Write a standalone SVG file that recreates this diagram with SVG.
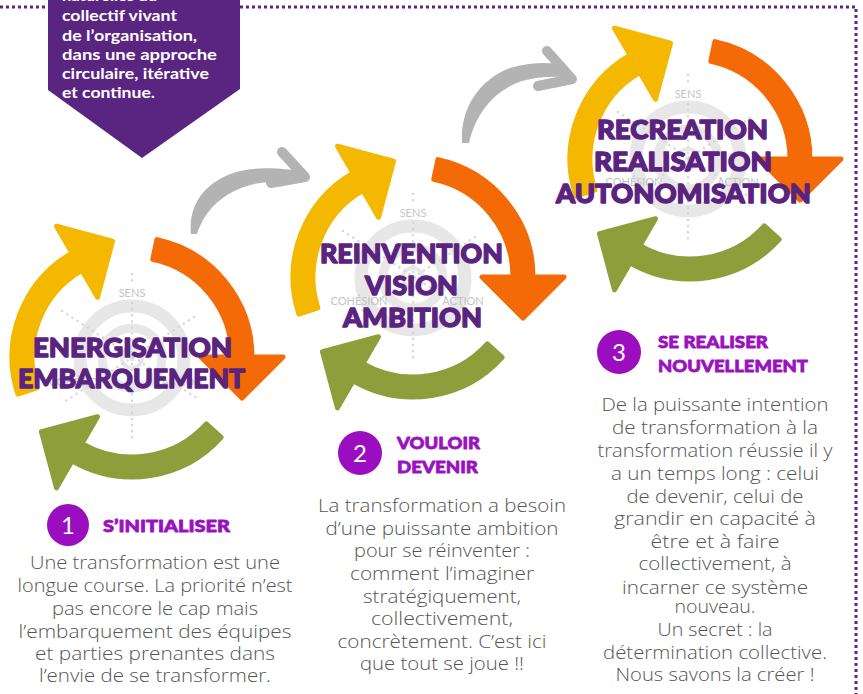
<svg xmlns="http://www.w3.org/2000/svg" xmlns:xlink="http://www.w3.org/1999/xlink" width="863" height="694" viewBox="0 0 863 694">
<style>
.title{font-family:Lato,"Open Sans","Liberation Sans",sans-serif;font-weight:900;font-size:27px;fill:#5A2380;stroke:#5A2380;stroke-width:1.4px;stroke-linejoin:round;text-anchor:middle}
.lbl{font-family:Lato,"Open Sans","Liberation Sans",sans-serif;font-size:11px;fill:#C4C4C4;text-anchor:middle}
.body{font-family:"Open Sans",Lato,"Liberation Sans",sans-serif;font-weight:300;font-size:18px;fill:#555555;text-anchor:middle}
.head{font-family:Lato,"Open Sans","Liberation Sans",sans-serif;font-weight:900;font-size:17px;fill:#9A12BF;stroke:#9A12BF;stroke-width:0.8px;stroke-linejoin:round}
.num{font-family:Lato,"Open Sans","Liberation Sans",sans-serif;font-size:24px;fill:#fff;text-anchor:middle}
.box{font-family:Lato,"Open Sans","Liberation Sans",sans-serif;font-weight:700;font-size:14.5px;fill:#fff}
.yl{fill:#F4B800;stroke:#F4B800}
.or{fill:#F36A06;stroke:#F36A06}
.gr{fill:#8E9E3B;stroke:#8E9E3B}
.arw{stroke-width:5;stroke-linejoin:round}
.grey{fill:#B4B3B4}
.greyhead{fill:none;stroke:#B4B3B4;stroke-width:10;stroke-linecap:round;stroke-linejoin:round}
</style>
<defs>
<path id="arc" d="M20.79 -97.81 L24.95 -117.38 A120 120 0 0 1 120 0 L151 0 L110 41 L69 0 L100 0 A100 100 0 0 0 20.79 -97.81 Z"/>
<g id="arrows">
<use xlink:href="#arc" href="#arc" class="or arw"/>
<use xlink:href="#arc" href="#arc" class="gr arw" transform="rotate(120)"/>
<use xlink:href="#arc" href="#arc" class="yl arw" transform="rotate(240)"/>
</g>
<g id="tgt">
<circle r="52" fill="none" stroke="#E7E7E7" stroke-width="13"/>
<circle r="30" fill="none" stroke="#E7E7E7" stroke-width="9"/>
<circle r="10" fill="none" stroke="#E7E7E7" stroke-width="4"/>
<circle r="3" fill="#E7E7E7"/>
<path d="M0 -84 V-74 M0 -55 V80 M-70 -47 L68 42 M62 -41 L-68 44" fill="none" stroke="#D6D6D6" stroke-width="2.4" stroke-dasharray="0.1 6" stroke-linecap="round"/>
</g>
</defs>

<rect width="863" height="694" fill="#fff"/>

<!-- dotted frame -->
<path d="M0 7 H856 V694" fill="none" stroke="#5C2582" stroke-width="3" stroke-dasharray="3 3"/>

<!-- intro box -->
<g id="intro">
<polygon points="48,0 240,0 240,89 142,158 48,90" fill="#5A2581"/>
<text class="box" x="62" y="1" textLength="95" lengthAdjust="spacingAndGlyphs">naturelles du</text>
<text class="box" x="62" y="21" textLength="115" lengthAdjust="spacingAndGlyphs">collectif vivant</text>
<text class="box" x="62" y="41" textLength="135" lengthAdjust="spacingAndGlyphs">de l’organisation,</text>
<text class="box" x="62" y="60" textLength="155" lengthAdjust="spacingAndGlyphs">dans une approche</text>
<text class="box" x="62" y="79" textLength="147" lengthAdjust="spacingAndGlyphs">circulaire, itérative</text>
<text class="box" x="62" y="98" textLength="93" lengthAdjust="spacingAndGlyphs">et continue.</text>
</g>

<!-- connectors -->
<g id="connectors">
<path class="grey" d="M191 234 C188 205 205 180 240 171 C262 166 285 169 300 171 L301 183 C282 181 262 181 247 186 C222 194 205 210 197 234 Z"/>
<polyline class="greyhead" points="282,152 305,177 271,183"/>
<path class="grey" d="M462 143 C460 110 478 80 510 68 C530 62 550 62 566 65 L566 77 C550 76 535 77 522 81 C495 90 476 112 469 143 Z"/>
<polyline class="greyhead" points="547,51 572,79 538,86"/>
</g>

<!-- cycle 1 -->
<g id="cycle1">
<use xlink:href="#tgt" href="#tgt" transform="translate(132,358)"/>
<text class="lbl" x="132" y="297">SENS</text>
<text class="lbl" x="78" y="386">COHÉSION</text>
<text class="lbl" x="182" y="386">ACTION</text>
<use xlink:href="#arrows" href="#arrows" transform="translate(132,357)"/>
<text class="title" x="132.5" y="357" textLength="199" lengthAdjust="spacingAndGlyphs">ENERGISATION</text>
<text class="title" x="131.5" y="388" textLength="227" lengthAdjust="spacingAndGlyphs">EMBARQUEMENT</text>
</g>

<!-- cycle 2 -->
<g id="cycle2">
<use xlink:href="#tgt" href="#tgt" transform="translate(413,278)"/>
<text class="lbl" x="413" y="217">SENS</text>
<text class="lbl" x="359" y="305">COHÉSION</text>
<text class="lbl" x="463" y="305">ACTION</text>
<use xlink:href="#arrows" href="#arrows" transform="translate(413,277)"/>
<text class="title" x="411.5" y="263" textLength="183" lengthAdjust="spacingAndGlyphs">REINVENTION</text>
<text class="title" x="411.5" y="295" textLength="93" lengthAdjust="spacingAndGlyphs">VISION</text>
<text class="title" x="412.5" y="327" textLength="139" lengthAdjust="spacingAndGlyphs">AMBITION</text>
</g>

<!-- cycle 3 -->
<g id="cycle3">
<use xlink:href="#tgt" href="#tgt" transform="translate(688,159)"/>
<text class="lbl" x="688" y="98">SENS</text>
<text class="lbl" x="634" y="186">COHÉSION</text>
<text class="lbl" x="738" y="186">ACTION</text>
<use xlink:href="#arrows" href="#arrows" transform="translate(690,159)"/>
<text class="title" x="682.5" y="139" textLength="171" lengthAdjust="spacingAndGlyphs">RECREATION</text>
<text class="title" x="683" y="171" textLength="178" lengthAdjust="spacingAndGlyphs">REALISATION</text>
<text class="title" x="683.5" y="203" textLength="255" lengthAdjust="spacingAndGlyphs">AUTONOMISATION</text>
</g>

<!-- step 1 -->
<g id="step1">
<circle cx="68" cy="525" r="21" fill="#9A0EBF"/>
<text class="num" x="68" y="534">1</text>
<text class="head" x="103" y="532" textLength="127" lengthAdjust="spacingAndGlyphs">S’INITIALISER</text>
<text class="body" x="155" y="569" textLength="250" lengthAdjust="spacingAndGlyphs">Une transformation est une</text>
<text class="body" x="155" y="592" textLength="275" lengthAdjust="spacingAndGlyphs">longue course. La priorité n’est</text>
<text class="body" x="155" y="615" textLength="206" lengthAdjust="spacingAndGlyphs">pas encore le cap mais</text>
<text class="body" x="155" y="638" textLength="273" lengthAdjust="spacingAndGlyphs">l’embarquement des équipes</text>
<text class="body" x="155" y="660" textLength="240" lengthAdjust="spacingAndGlyphs">et parties prenantes dans</text>
<text class="body" x="155" y="682" textLength="232" lengthAdjust="spacingAndGlyphs">l’envie de se transformer.</text>
</g>

<!-- step 2 -->
<g id="step2">
<circle cx="360" cy="453" r="22" fill="#9A0EBF"/>
<text class="num" x="360" y="462">2</text>
<text class="head" x="397" y="449" textLength="83" lengthAdjust="spacingAndGlyphs">VOULOIR</text>
<text class="head" x="397" y="473" textLength="81" lengthAdjust="spacingAndGlyphs">DEVENIR</text>
<text class="body" x="442" y="512" textLength="248" lengthAdjust="spacingAndGlyphs">La transformation a besoin</text>
<text class="body" x="442" y="535" textLength="233" lengthAdjust="spacingAndGlyphs">d’une puissante ambition</text>
<text class="body" x="442" y="557" textLength="176" lengthAdjust="spacingAndGlyphs">pour se réinventer :</text>
<text class="body" x="442" y="580" textLength="184" lengthAdjust="spacingAndGlyphs">comment l’imaginer</text>
<text class="body" x="442" y="603" textLength="158" lengthAdjust="spacingAndGlyphs">stratégiquement,</text>
<text class="body" x="442" y="625" textLength="142" lengthAdjust="spacingAndGlyphs">collectivement,</text>
<text class="body" x="442" y="648" textLength="209" lengthAdjust="spacingAndGlyphs">concrètement. C’est ici</text>
<text class="body" x="442" y="670" textLength="164" lengthAdjust="spacingAndGlyphs">que tout se joue !!</text>
</g>

<!-- step 3 -->
<g id="step3">
<circle cx="619" cy="352" r="22" fill="#9A0EBF"/>
<text class="num" x="619" y="361">3</text>
<text class="head" x="658" y="348" textLength="110" lengthAdjust="spacingAndGlyphs">SE REALISER</text>
<text class="head" x="658" y="372" textLength="150" lengthAdjust="spacingAndGlyphs">NOUVELLEMENT</text>
<text class="body" x="715" y="411" textLength="227" lengthAdjust="spacingAndGlyphs">De la puissante intention</text>
<text class="body" x="715" y="434" textLength="206" lengthAdjust="spacingAndGlyphs">de transformation à la</text>
<text class="body" x="715" y="457" textLength="235" lengthAdjust="spacingAndGlyphs">transformation réussie il y</text>
<text class="body" x="715" y="480" textLength="208" lengthAdjust="spacingAndGlyphs">a un temps long : celui</text>
<text class="body" x="715" y="503" textLength="177" lengthAdjust="spacingAndGlyphs">de devenir, celui de</text>
<text class="body" x="715" y="525" textLength="202" lengthAdjust="spacingAndGlyphs">grandir en capacité à</text>
<text class="body" x="715" y="548" textLength="129" lengthAdjust="spacingAndGlyphs">être et à faire</text>
<text class="body" x="715" y="570" textLength="153" lengthAdjust="spacingAndGlyphs">collectivement, à</text>
<text class="body" x="715" y="594" textLength="186" lengthAdjust="spacingAndGlyphs">incarner ce système</text>
<text class="body" x="715" y="613" textLength="81" lengthAdjust="spacingAndGlyphs">nouveau.</text>
<text class="body" x="715" y="636" textLength="115" lengthAdjust="spacingAndGlyphs">Un secret : la</text>
<text class="body" x="715" y="659" textLength="224" lengthAdjust="spacingAndGlyphs">détermination collective.</text>
<text class="body" x="715" y="681" textLength="199" lengthAdjust="spacingAndGlyphs">Nous savons la créer !</text>
</g>

<text x="-3" y="712" font-family="Lato, 'Open Sans', sans-serif" font-weight="900" font-size="34" fill="#7E1FA8">e</text>
</svg>
